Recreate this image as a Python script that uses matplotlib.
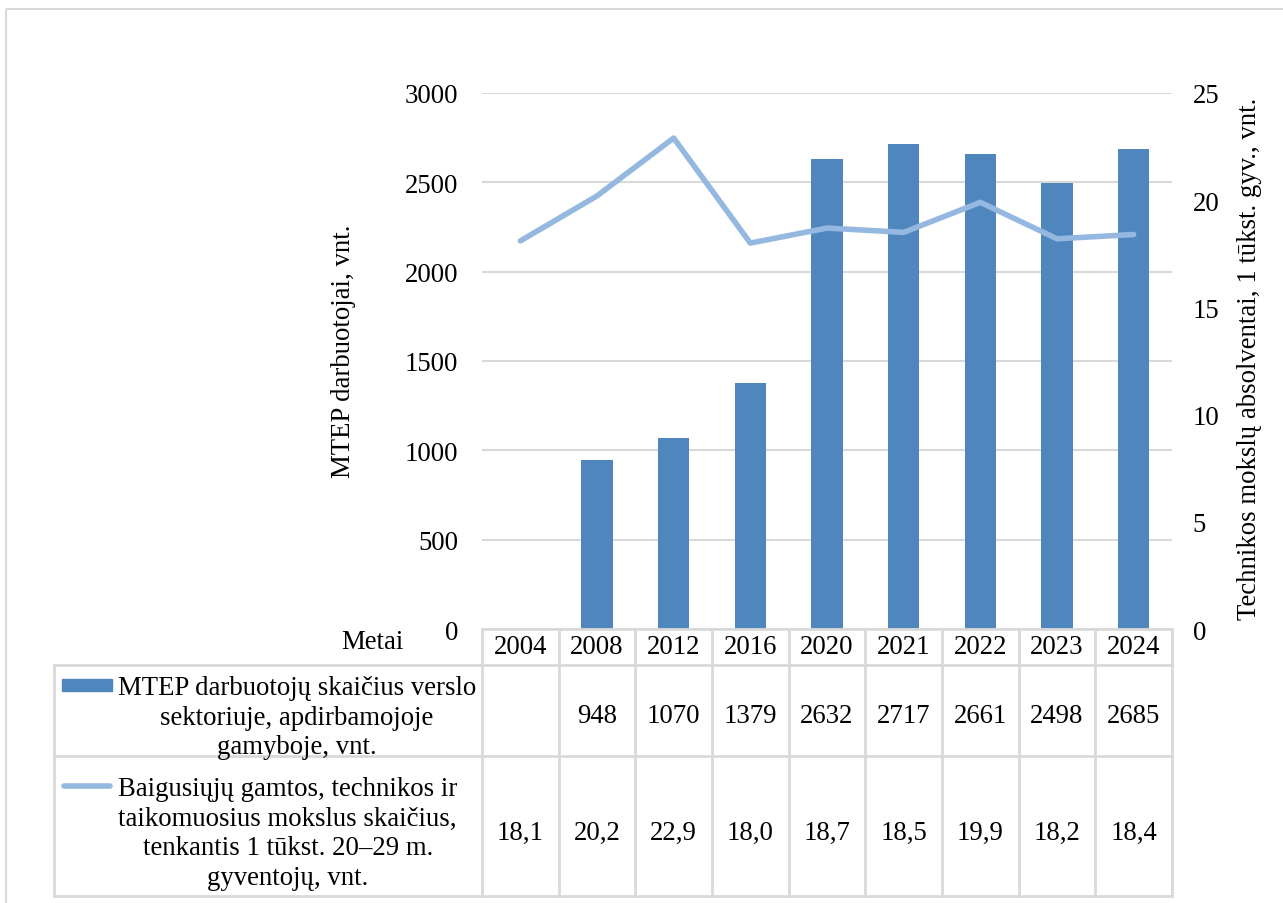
import matplotlib
matplotlib.use("Agg")
import matplotlib.pyplot as plt
import matplotlib.transforms as mtransforms
from matplotlib.lines import Line2D
from matplotlib.patches import Rectangle

# ---- data ----
years = ["2004", "2008", "2012", "2016", "2020", "2021", "2022", "2023", "2024"]
mtep = [None, 948, 1070, 1379, 2632, 2717, 2661, 2498, 2685]
graduates = [18.1, 20.2, 22.9, 18.0, 18.7, 18.5, 19.9, 18.2, 18.4]
series1_label = "MTEP darbuotojų skaičius verslo\nsektoriuje, apdirbamojoje\ngamyboje, vnt."
series2_label = ("Baigusiųjų gamtos, technikos ir\ntaikomuosius mokslus skaičius,\n"
                 "tenkantis 1 tūkst. 20–29 m.\ngyventojų, vnt.")
left_ylabel = "MTEP darbuotojai, vnt."
right_ylabel = "Technikos mokslų absolventai, 1 tūkst. gyv., vnt."
header_label = "Metai"
left_ticks = [0, 500, 1000, 1500, 2000, 2500, 3000]
right_ticks = [0, 5, 10, 15, 20, 25]

BAR = "#4F86BE"
LINE = "#95B8E1"
GRID = "#D9D9D9"
FS = 19.3

plt.rcParams["font.family"] = ["Liberation Serif", "DejaVu Serif"]

W, H = 1283, 904
fig = plt.figure(figsize=(W / 100, H / 100), dpi=100)

def px(x0, y0, x1, y1):
    return [x0 / W, 1 - y1 / H, (x1 - x0) / W, (y1 - y0) / H]

# pixel transform (x from left, y from top)
pxT = mtransforms.Affine2D().scale(1 / W, -1 / H).translate(0, 1) + fig.transFigure

# outer frame
fig.patches.append(Rectangle((6, 10), 1400, 1000, transform=pxT, fill=False,
                             edgecolor=GRID, lw=1.5))

ax = fig.add_axes(px(482, 94, 1172, 630))
x = list(range(len(years)))
bx = [i for i, v in zip(x, mtep) if v is not None]
bv = [v for v in mtep if v is not None]
ax.bar(bx, bv, width=0.41, color=BAR, zorder=3)
ax.set_xlim(-0.5, len(years) - 0.5)
ax.set_ylim(0, 3000)
ax.set_yticks(left_ticks)
ax.set_yticklabels([str(t) for t in left_ticks], fontsize=FS)
ax.tick_params(axis="y", length=0, pad=17)
ax.set_xticks([])
for s in ax.spines.values():
    s.set_visible(False)
ax.grid(axis="y", color=GRID, lw=1.5, zorder=0)
ax.set_ylabel(left_ylabel, fontsize=FS)
ax.yaxis.set_label_coords(-126 / 690, 0.52)

ax2 = ax.twinx()
ax2.plot(x, graduates, color=LINE, lw=4, solid_capstyle="round", zorder=4)
ax2.set_ylim(0, 25)
ax2.set_yticks(right_ticks)
ax2.set_yticklabels([str(t) for t in right_ticks], fontsize=FS)
ax2.tick_params(axis="y", length=0, pad=15)
for s in ax2.spines.values():
    s.set_visible(False)
ax2.set_ylabel(right_ylabel, fontsize=FS)
ax2.yaxis.set_label_coords(1 + 65 / 690, 0.505)

# ---- data table ----
bt = mtransforms.blended_transform_factory(ax.transData, pxT)
y_top, y_h, y_r1, y_bot = 630, 666, 757, 897
x_left, x_tab = 54, 482
lkw = dict(color=GRID, lw=2, zorder=1)

def hline(x0, x1, y):
    fig.add_artist(Line2D([x0, x1], [y, y], transform=pxT, **lkw))

hline(x_tab, 1172, y_top)
hline(x_left, 1172, y_h)
hline(x_left, 1172, y_r1)
hline(x_left, 1172, y_bot)
fig.add_artist(Line2D([x_left, x_left], [y_h, y_bot], transform=pxT, **lkw))
for i in range(len(years) + 1):
    fig.add_artist(Line2D([i - 0.5, i - 0.5], [y_top, y_bot], transform=bt, **lkw))

for i, yr in enumerate(years):
    fig.text(i, 648, yr, transform=bt, ha="center", va="center", fontsize=FS)
    if mtep[i] is not None:
        fig.text(i, 717, str(mtep[i]), transform=bt, ha="center", va="center", fontsize=FS)
    fig.text(i, 833, f"{graduates[i]:.1f}".replace(".", ","), transform=bt,
             ha="center", va="center", fontsize=FS)

fig.text(372, 643, header_label, transform=pxT, ha="center", va="center", fontsize=FS)

# legend keys and labels
fig.patches.append(Rectangle((62, 680), 50, 12, transform=pxT, color=BAR))
fig.add_artist(Line2D([64, 110], [787, 787], transform=pxT, color=LINE, lw=4,
                      solid_capstyle="round"))
fig.text(118, 676, series1_label, transform=pxT, ha="left", va="top",
         multialignment="center", fontsize=FS, linespacing=1.25)
fig.text(118, 777, series2_label, transform=pxT, ha="left", va="top",
         multialignment="center", fontsize=FS, linespacing=1.25)

fig.savefig("out.png", dpi=100)
